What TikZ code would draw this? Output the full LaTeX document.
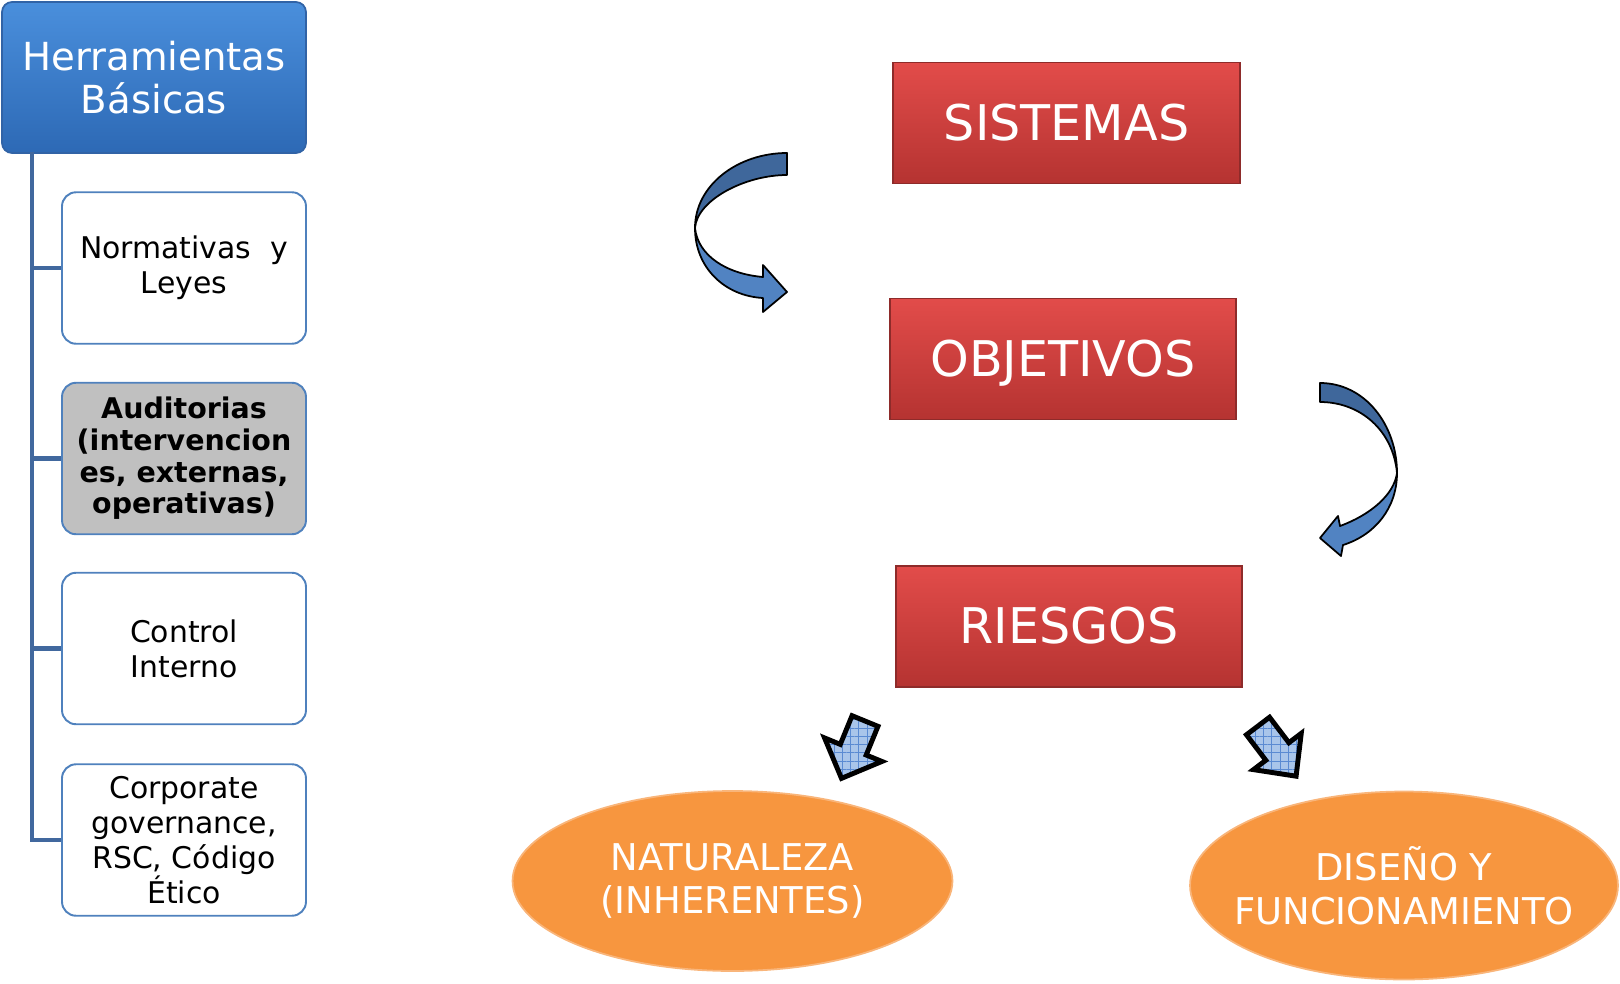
\documentclass[tikz,border=0pt]{standalone}
\usepackage{fontspec}
\setmainfont{DejaVu Sans}
\usetikzlibrary{patterns.meta,shapes.geometric}
\definecolor{hdrtop}{HTML}{4A8FDC}
\definecolor{hdrbot}{HTML}{2D69B5}
\definecolor{hdrline}{HTML}{3163A6}
\definecolor{boxline}{HTML}{4F81BD}
\definecolor{connc}{HTML}{41689E}
\definecolor{redtop}{HTML}{E24C4A}
\definecolor{redbot}{HTML}{B53331}
\definecolor{redline}{HTML}{8E2B2A}
\definecolor{orfill}{HTML}{F7963F}
\definecolor{orrim}{HTML}{F9B57A}
\definecolor{arrdark}{HTML}{3F679B}
\definecolor{arrlight}{HTML}{5183C2}
\definecolor{hatchfill}{HTML}{A9C5EA}
\definecolor{hatchline}{HTML}{5A8AD2}
\definecolor{grayfill}{HTML}{C0C0C0}
\tikzset{
  header/.style={draw=hdrline, line width=1pt, rounded corners=0.2cm,
    top color=hdrtop, bottom color=hdrbot, text=white,
    minimum width=6.08cm, minimum height=3.02cm, align=center,
    font=\fontsize{22}{24.4}\selectfont},
  leftbox/.style={draw=boxline, line width=1.1pt, rounded corners=0.28cm, fill=white,
    minimum width=4.88cm, minimum height=3.03cm, align=center, text=black,
    font=\fontsize{17}{19.8}\selectfont},
  redbox/.style={draw=redline, line width=1pt, top color=redtop, bottom color=redbot,
    text=white, minimum width=6.93cm, minimum height=2.42cm,
    text height=19.5pt, text depth=0pt,
    font=\fontsize{28}{32}\selectfont},
  oval/.style={ellipse, draw=orrim, line width=1pt, fill=orfill, text=white,
    align=center, inner sep=0pt, font=\fontsize{21}{25}\selectfont},
  conn/.style={draw=connc, line width=2.3pt},
  bandd/.style={fill=arrdark, draw=black, line width=1pt, line join=round},
  bandl/.style={fill=arrlight, draw=black, line width=1pt, line join=round},
  hatch/.style={draw=black, line width=2.8pt, line join=miter,
    preaction={fill=hatchfill},
    preaction={pattern={Lines[angle=0,distance=4.7pt,line width=0.5pt]}, pattern color=hatchline},
    pattern={Lines[angle=90,distance=4.7pt,line width=0.5pt]}, pattern color=hatchline},
}
\begin{document}
\begin{tikzpicture}[x=0.02cm, y=-0.02cm]
\useasboundingbox (0,0) rectangle (1620,984);

% left column
\node[header] (hdr) at (154,77.5) {Herramientas\\Básicas};
\node[leftbox] (b1) at (184,268) {Normativas\ \ y\\Leyes};
\node[leftbox, fill=grayfill, font=\fontsize{16.2}{18}\selectfont\bfseries] (b2) at (184,458.5)
  {Auditorias\\(intervencion\\es, externas,\\operativas)};
\node[leftbox] (b3) at (184,648.5) {Control\\Interno};
\node[leftbox] (b4) at (184,840) {Corporate\\governance,\\RSC, Código\\Ético};

\coordinate (hb) at (32,152);
\draw[conn] (hb) |- (b4.west);
\draw[conn] (b1.west -| hb) -- (b1.west);
\draw[conn] (b2.west -| hb) -- (b2.west);
\draw[conn] (b3.west -| hb) -- (b3.west);

% red boxes
\node[redbox] (sis) at (1066.5,123) {SISTEMAS};
\node[redbox] (obj) at (1063,359) {OBJETIVOS};
\node[redbox] (rie) at (1069,626.5) {RIESGOS};

% ellipses
\node[oval, minimum width=8.8cm, minimum height=3.6cm] (nat) at (732.5,881)
  {\makebox[0pt]{NATURALEZA}\\\makebox[0pt]{(INHERENTES)}};
\node[oval, minimum width=8.56cm, minimum height=3.76cm] (dis) at (1404,885.5)
  {\makebox[0pt]{DISEÑO Y}\\\makebox[0pt]{FUNCIONAMIENTO}};

% curved arrow 1 (left)
\path[bandd] (787,153) .. controls (738,153) and (695,185) .. (695,228)
  .. controls (697,200) and (745,175) .. (787,175) -- cycle;
\path[bandl] (695,228) .. controls (695,268) and (725,296) .. (763,298)
  -- (763,312) -- (787,292) -- (763,265) -- (763,277)
  .. controls (727,274) and (698,256) .. (695,228) -- cycle;

% curved arrow 2 (right)
\path[bandd] (1320,383) .. controls (1365,383) and (1397,425) .. (1397,473)
  .. controls (1393,430) and (1360,402) .. (1320,402) -- cycle;
\path[bandl] (1397,473) .. controls (1397,508) and (1375,535) .. (1343,545)
  -- (1341,556) -- (1320,538) -- (1338,516) -- (1340,526)
  .. controls (1370,515) and (1394,495) .. (1397,473) -- cycle;

% small block arrows
\begin{scope}[shift={(865,721)}, rotate=247.7]
  \path[hatch] (0,-14) -- (31,-14) -- (31,-31) -- (62,0) -- (31,31) -- (31,14) -- (0,14) -- cycle;
\end{scope}
\begin{scope}[shift={(1258,726)}, rotate=-52.8]
  \path[hatch] (0,-14.5) -- (32,-14.5) -- (32,-30) -- (63,0) -- (32,30) -- (32,14.5) -- (0,14.5) -- cycle;
\end{scope}
\end{tikzpicture}
\end{document}
